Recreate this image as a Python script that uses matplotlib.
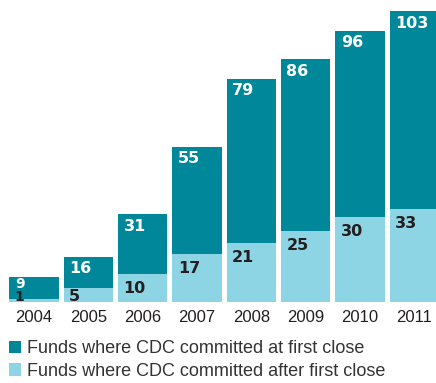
import matplotlib.pyplot as plt
import numpy as np

# data
years = ['2004', '2005', '2006', '2007', '2008', '2009', '2010', '2011']
first_close = [9, 16, 31, 55, 79, 86, 96, 103]
after_first = [1, 5, 10, 17, 21, 25, 30, 33]

dark = '#00879A'
light = '#8DD4E4'
text_col = '#231F20'
plt.rcParams['font.family'] = ['Liberation Sans', 'DejaVu Sans']

fig = plt.figure(figsize=(4.36, 3.83), dpi=100)
ax = fig.add_axes([6.85 / 436, 0.2115, 1 - 6.85 / 436, 0.7820])

x = np.arange(len(years))
w = 0.91
ax.bar(x, first_close, width=w, color=dark, label='Funds where CDC committed at first close')
ax.bar(x, after_first, width=w, color=light, label='Funds where CDC committed after first close')

px = 72 / 100  # points per pixel
num_font = dict(family='DejaVu Sans', fontweight='bold')
for i in range(len(years)):
    v = first_close[i]
    if v < 12:
        # short bar: smaller digits, tight to the top
        fs, dy = 10, -(1.5 + 10.1) * px
    else:
        fs, dy = 11.5, -(5 + 11.6) * px
    ax.annotate(str(v), xy=(x[i] - w / 2, v), xytext=(5.5 * px, dy),
                textcoords='offset points', ha='left', va='baseline', color='white',
                fontsize=fs, **num_font)
    v = after_first[i]
    fs = 10 if first_close[i] < 12 else 11.5
    if v < 7:
        ax.annotate(str(v), xy=(x[i] - w / 2, 0), xytext=(5.5 * px, 1 * px),
                    textcoords='offset points', ha='left', va='baseline', color=text_col,
                    fontsize=fs, **num_font)
    else:
        ax.annotate(str(v), xy=(x[i] - w / 2, v), xytext=(5.5 * px, -(7.5 + 11.6) * px),
                    textcoords='offset points', ha='left', va='baseline', color=text_col,
                    fontsize=fs, **num_font)

ax.set_xlim(-0.5, 7.40)
ax.set_ylim(0, 106)
ax.set_xticks(x)
ax.set_xticklabels(years, fontsize=12, color=text_col)
ax.tick_params(axis='x', length=0, pad=5.5)
ax.set_yticks([])
for s in ax.spines.values():
    s.set_visible(False)

fig.legend(loc='upper left', bbox_to_anchor=(5 / 436, 0.121), frameon=False, fontsize=13,
           handlelength=0.7, handleheight=0.7, handletextpad=0.3, labelspacing=0.3,
           borderaxespad=0, borderpad=0.2, labelcolor='#333333')

fig.savefig('out.png', dpi=100)
